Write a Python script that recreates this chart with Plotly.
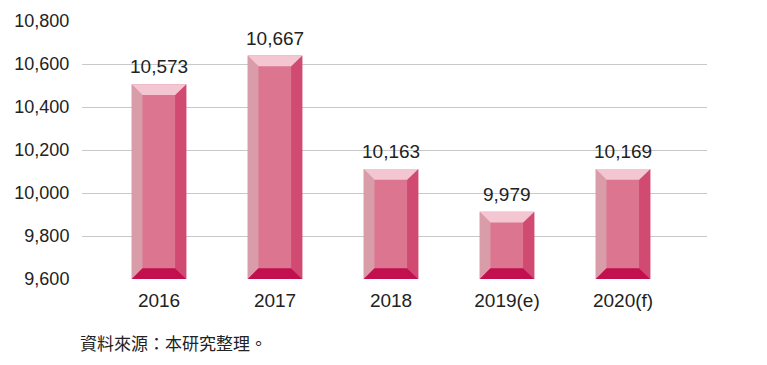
import plotly.graph_objects as go

categories = ["2016", "2017", "2018", "2019(e)", "2020(f)"]
# Labelled values (as printed above each bar)
value_labels = ["10,573", "10,667", "10,163", "9,979", "10,169"]
# Bar heights as they are drawn in the picture
bar_heights = [10506, 10639, 10112, 9913, 10112]
y_ticks = [9600, 9800, 10000, 10200, 10400, 10600, 10800]
y_tick_labels = ["9,600", "9,800", "10,000", "10,200", "10,400", "10,600", "10,800"]
source_text = "資料來源：本研究整理。"

Y_MIN, Y_MAX = 9600, 10800
BAR_W = 0.47
DX_L, DX_R, DY = 0.092, 0.096, 50

xs = list(range(len(categories)))

fig = go.Figure()
fig.add_trace(go.Bar(
    x=xs, y=[v - Y_MIN for v in bar_heights], base=Y_MIN, width=BAR_W,
    marker=dict(color="#DC7690", line=dict(width=0)),
    hoverinfo="skip", showlegend=False,
))

shapes = []
def poly(pts, color):
    path = "M " + " L ".join(f"{x},{y}" for x, y in pts) + " Z"
    shapes.append(dict(type="path", path=path, xref="x", yref="y",
                       fillcolor=color, line=dict(width=0), layer="above"))

for c, v in zip(xs, bar_heights):
    w = BAR_W / 2
    b = Y_MIN
    L, R = c - w, c + w
    poly([(L, b), (L, v), (L + DX_L, v - DY), (L + DX_L, b + DY)], "#D89DA9")
    poly([(R, b), (R, v), (R - DX_R, v - DY), (R - DX_R, b + DY)], "#D04A72")
    poly([(L, v), (R, v), (R - DX_R, v - DY), (L + DX_L, v - DY)], "#F3C6D2")
    poly([(L, b), (R, b), (R - DX_R, b + DY), (L + DX_L, b + DY)], "#C2104E")

annotations = [dict(
    x=c, y=v, xref="x", yref="y", text=t, showarrow=False,
    xanchor="center", yanchor="bottom", yshift=5,
    font=dict(size=19, color="#222222", family="Liberation Sans, Arial"),
) for c, v, t in zip(xs, bar_heights, value_labels)]

annotations.append(dict(
    text=source_text, xref="paper", yref="paper",
    x=-0.0064, y=-0.248, xanchor="left", yanchor="middle",
    showarrow=False,
    font=dict(size=17, color="#222222", family="Noto Sans CJK TC"),
))

fig.update_layout(
    width=759, height=357,
    margin=dict(l=74, r=60, t=13, b=86, autoexpand=False),
    paper_bgcolor="white", plot_bgcolor="white",
    shapes=shapes,
    font=dict(family="Liberation Sans, Arial", color="#222222"),
    xaxis=dict(
        range=[-0.664, 4.724], tickvals=xs, ticktext=categories,
        showgrid=False, zeroline=False, showline=False, automargin=False,
        ticks="outside", ticklen=4, tickcolor="rgba(0,0,0,0)",
        tickfont=dict(size=19, color="#222222"),
    ),
    yaxis=dict(
        range=[Y_MIN, Y_MAX], tickvals=y_ticks, ticktext=y_tick_labels,
        showgrid=True, gridcolor="#C8C8C8", gridwidth=1,
        zeroline=False, showline=False, automargin=False,
        ticks="outside", ticklen=8, tickcolor="rgba(0,0,0,0)",
        tickfont=dict(size=18, color="#222222"),
    ),
    annotations=annotations,
)

fig.write_html("out.html")
